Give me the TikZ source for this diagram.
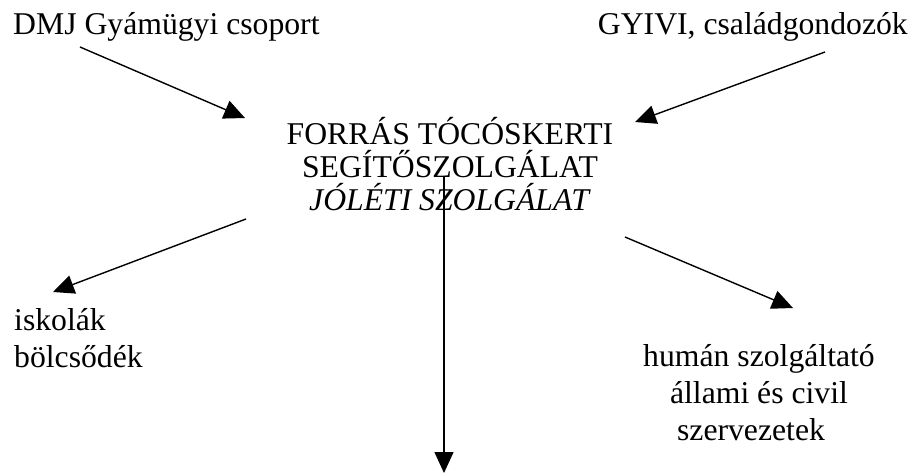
\documentclass[tikz,border=0pt]{standalone}
\usepackage{fontspec}
\setmainfont{Liberation Serif}
\usetikzlibrary{arrows.meta}
\tikzset{
  lbl/.style={inner sep=0pt, font=\fontsize{31.7}{36.7}\selectfont},
  arr/.style={line width=1.4pt, -{Triangle[length=21pt,width=19pt]}}
}
\begin{document}
\begin{tikzpicture}[x=1pt,y=-1pt]
\useasboundingbox (0,0) rectangle (921,475);
\node[lbl, anchor=base west] (dmj) at (13,34) {DMJ Gyámügyi csoport};
\node[lbl, anchor=base east] (gyivi) at (908,34) {GYIVI, családgondozók};
\node[lbl, anchor=base, align=center, font=\fontsize{31.7}{33}\selectfont] (forras) at (450,210)
  {FORRÁS TÓCÓSKERTI\\SEGÍTŐSZOLGÁLAT\\\textit{JÓLÉTI SZOLGÁLAT}};
\node[lbl, anchor=base west, align=left] (isk) at (14,367) {iskolák\\bölcsődék};
\node[lbl, anchor=base, align=center] (human) at (759,440) {humán szolgáltató\\állami és civil\\szervezetek\hspace*{16pt}};
\coordinate (a1s) at (80,47);  \coordinate (a1e) at (245,118);
\coordinate (a2s) at (825,52); \coordinate (a2e) at (635,122);
\coordinate (a3s) at (246,219); \coordinate (a3e) at (53,292);
\coordinate (a4s) at (625,237); \coordinate (a4e) at (793,308);
\coordinate (a5s) at (444,177); \coordinate (a5e) at (444,473);
\draw[arr] (a1s) -- (a1e);
\draw[arr] (a2s) -- (a2e);
\draw[arr] (a3s) -- (a3e);
\draw[arr] (a4s) -- (a4e);
\draw[arr] (a5s) -- (a5e);
\end{tikzpicture}
\end{document}
